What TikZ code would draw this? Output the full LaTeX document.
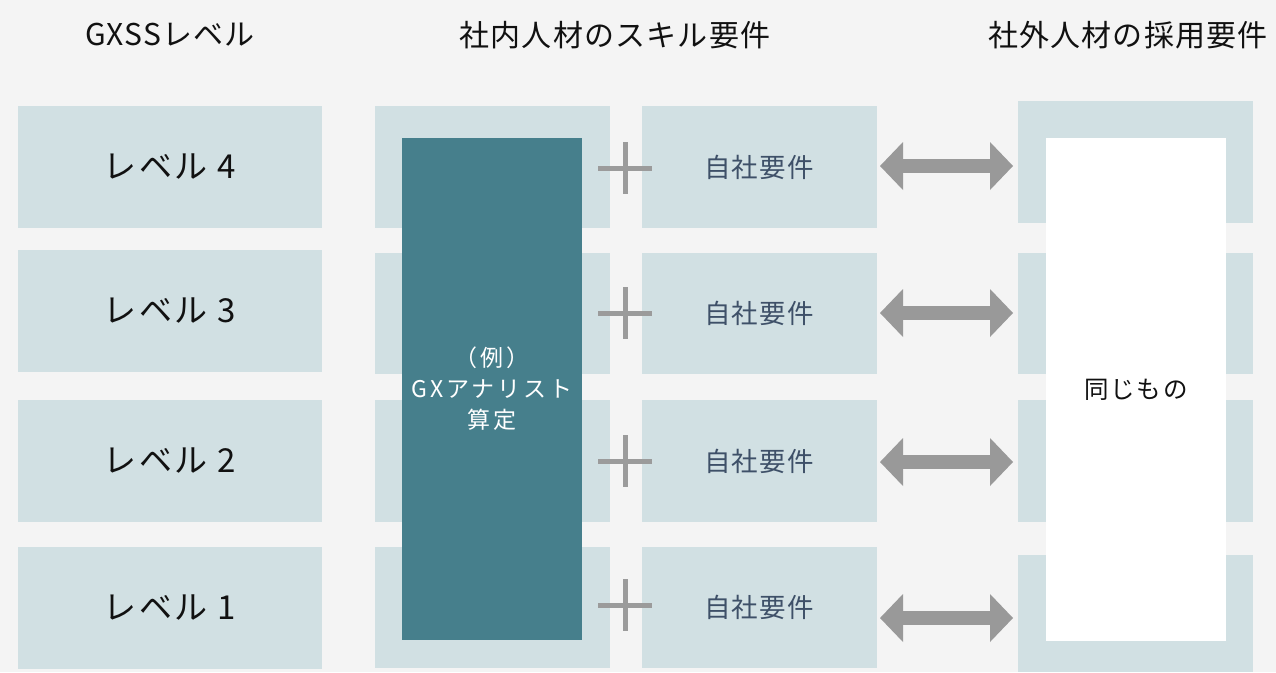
\documentclass[tikz,border=0pt]{standalone}
\usepackage{fontspec}
\setmainfont{Noto Sans CJK JP}
\newfontfamily\hdfont[LetterSpace=4]{Noto Sans CJK JP}
\newfontfamily\lvlfont[LetterSpace=8]{Noto Sans CJK JP}
\newfontfamily\reqfont[LetterSpace=5]{Noto Sans CJK JP}
\newfontfamily\exfont[LetterSpace=12]{Noto Sans CJK JP}
\newfontfamily\samefont[LetterSpace=8]{Noto Sans CJK JP}
\usetikzlibrary{arrows.meta}
\definecolor{bg}{HTML}{F4F4F4}
\definecolor{pale}{HTML}{D1E0E3}
\definecolor{tealbox}{HTML}{467F8C}
\definecolor{arrowgray}{HTML}{999999}
\definecolor{plusgray}{HTML}{9B9B9B}
\definecolor{reqtext}{HTML}{3E5068}
\definecolor{ink}{HTML}{111111}
\tikzset{
  header/.style={inner sep=0pt, text=ink, font={\hdfont\fontsize{30}{36}\selectfont}},
  lvlbox/.style={fill=pale, draw=none, inner sep=0pt, minimum width=304pt, minimum height=122pt, text=ink, font={\lvlfont\fontsize{33}{38}\selectfont}},
  midbox/.style={fill=pale, draw=none, inner sep=0pt, minimum width=235pt, minimum height=122pt},
  reqbox/.style={midbox, text=reqtext, font={\reqfont\fontsize{26.5}{32}\selectfont}},
  extbox/.style={fill=pale, draw=none, inner sep=0pt, minimum width=235pt, minimum height=122pt},
  darkbox/.style={fill=tealbox, draw=none, inner sep=0pt, minimum width=180pt, minimum height=502pt, text=white, align=center, font={\exfont\fontsize{23}{31}\selectfont}},
  whitebox/.style={fill=white, draw=none, inner sep=0pt, minimum width=180pt, minimum height=503pt, text=ink, font={\samefont\fontsize{24.5}{30}\selectfont}},
  plusline/.style={draw=plusgray, line width=5pt},
  dblarrow/.style={draw=arrowgray, line width=14.6pt, {Triangle[length=23pt,width=48pt,line width=0pt]}-{Triangle[length=23pt,width=48pt,line width=0pt]}}
}
\begin{document}
\begin{tikzpicture}[x=1pt,y=-1pt]
\fill[bg] (0,0) rectangle (1276,672);
\useasboundingbox (0,0) rectangle (1276,672);
% headers
\node[header] (h1) at (170,35) {GXSSレベル};
\node[header] (h2) at (615,35) {社内人材のスキル要件};
\node[header] (h3) at (1128,35) {社外人材の採用要件};
% level boxes
\node[lvlbox] (L4) at (170,167) {レベル 4};
\node[lvlbox] (L3) at (170,311) {レベル 3};
\node[lvlbox] (L2) at (170,461) {レベル 2};
\node[lvlbox] (L1) at (170,608) {レベル 1};
% middle left boxes
\node[midbox] (M4) at (492.5,167) {};
\node[midbox, minimum height=121pt] (M3) at (492.5,313.5) {};
\node[midbox] (M2) at (492.5,461) {};
\node[midbox, minimum height=121pt] (M1) at (492.5,607.5) {};
% requirement boxes
\node[reqbox] (Q4) at (759,167) {自社要件};
\node[reqbox, minimum height=121pt] (Q3) at (759,313.5) {自社要件};
\node[reqbox] (Q2) at (759,461) {自社要件};
\node[reqbox, minimum height=121pt] (Q1) at (759,607.5) {自社要件};
% external boxes
\node[extbox] (E4) at (1135.5,162) {};
\node[extbox, minimum height=121pt] (E3) at (1135.5,313.5) {};
\node[extbox] (E2) at (1135.5,461) {};
\node[extbox, minimum height=117pt] (E1) at (1135.5,613.5) {};
% overlay boxes
\node[darkbox] (D) at (492,389) {（例）\\GXアナリスト\\算定};
\node[whitebox] (W) at (1136,389.5) {同じもの};
% plus signs
\foreach \n/\y in {4/168,3/313,2/461,1/605}{
  \coordinate (p\n) at (625,\y);
  \draw[plusline] ([xshift=-27pt]p\n) -- ([xshift=27pt]p\n);
  \draw[plusline] ([yshift=26pt]p\n) -- ([yshift=-26pt]p\n);
}
% double arrows
\foreach \n/\y in {4/166,3/313,2/462,1/618}{
  \coordinate (al\n) at (880,\y);
  \coordinate (ar\n) at (1013,\y);
  \draw[dblarrow] (al\n) -- (ar\n);
}
\end{tikzpicture}
\end{document}
